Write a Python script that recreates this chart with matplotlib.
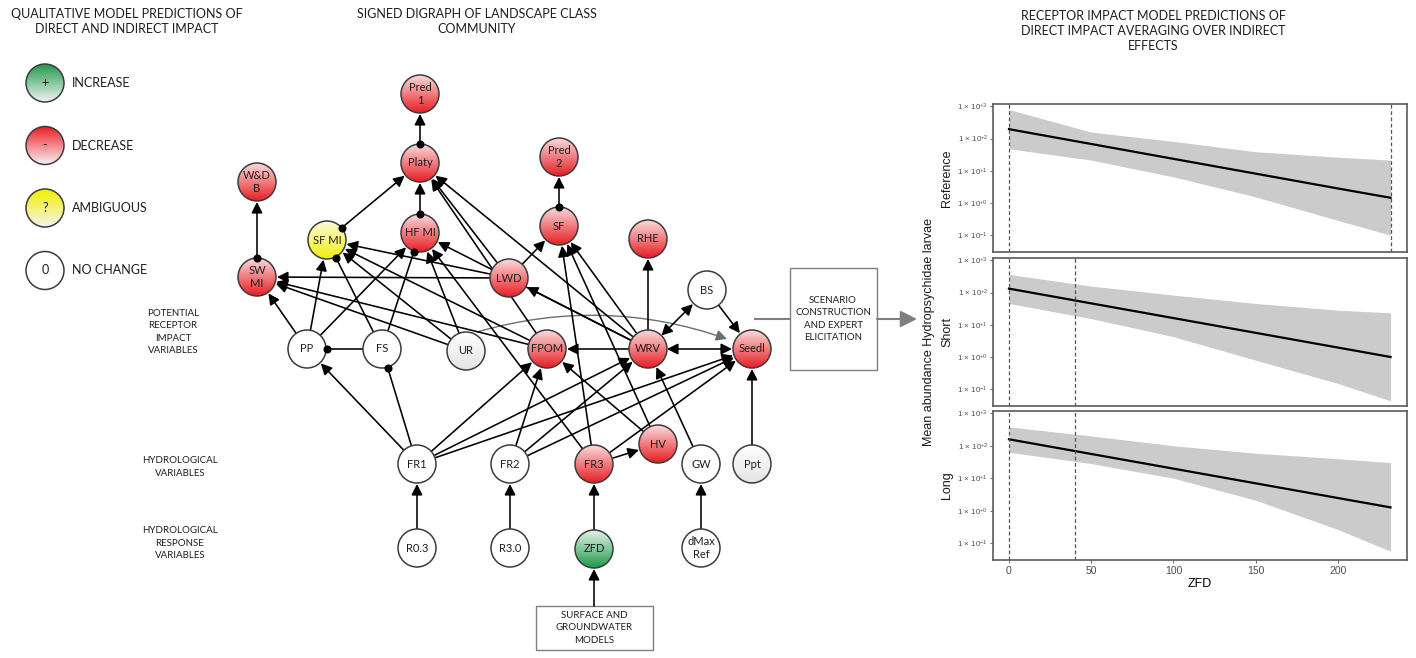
import numpy as np
import matplotlib.pyplot as plt
import matplotlib.ticker as ticker
from matplotlib.patches import Circle, FancyArrowPatch, Rectangle
from matplotlib.colors import to_rgb

# ---- right-hand panels: receptor impact model predictions ----
zfd_grid = [0, 50, 100, 150, 200, 232]

ref_fit = [195, 67.6, 23.4, 8.13, 2.82, 1.45]
ref_hi = [794, 158, 81.3, 38.9, 26.3, 21.4]
ref_lo = [47.9, 21.4, 6.46, 1.55, 0.288, 0.100]
ref_cuts = [0, 232]

short_fit = [132, 46.0, 16.1, 5.61, 1.96, 1.00]
short_hi = [363, 158, 83.2, 45.7, 28.2, 23.4]
short_lo = [45.7, 15.5, 4.27, 0.794, 0.151, 0.0437]
short_cuts = [0, 40]

long_fit = [158, 55.8, 19.7, 6.95, 2.45, 1.26]
long_hi = [380, 200, 100, 58.9, 39.8, 30.2]
long_lo = [63.1, 28.2, 10.0, 2.09, 0.263, 0.0562]
long_cuts = [0, 40]

panel_names = ['Reference', 'Short', 'Long']
y_ticks = [1e3, 1e2, 1e1, 1e0, 1e-1]
y_tick_labels = ['1 × 10$^{+3}$', '1 × 10$^{+2}$', '1 × 10$^{+1}$', '1 × 10$^{+0}$', '1 × 10$^{-1}$']
x_ticks = [0, 50, 100, 150, 200]

# ---- signed digraph ----
nodes = {
    'Pred 1': (420, 94, 'red'), 'Platy': (420, 163, 'red'),
    'Pred 2': (559, 157, 'red'), 'SF': (559, 226, 'red'),
    'W&D B': (257, 182, 'red'), 'SF MI': (327, 240, 'yellow'),
    'HF MI': (420, 233, 'red'), 'RHE': (648, 239, 'red'),
    'SW MI': (257, 277, 'red'), 'LWD': (509, 278, 'red'),
    'BS': (707, 290, 'white'), 'PP': (307, 349, 'white'),
    'FS': (382, 349, 'white'), 'UR': (466, 351, 'grey'),
    'FPOM': (547, 349, 'red'), 'WRV': (648, 349, 'red'),
    'Seedl': (752, 349, 'red'), 'FR1': (417, 464, 'white'),
    'FR2': (510, 464, 'white'), 'FR3': (594, 464, 'red'),
    'HV': (658, 444, 'red'), 'GW': (701, 464, 'white'),
    'Ppt': (752, 464, 'grey'), 'R0.3': (417, 548, 'white'),
    'R3.0': (510, 548, 'white'), 'ZFD': (594, 549, 'green'),
    'dMax Ref': (701, 548, 'white'),
}
node_text = {'Pred 1': 'Pred\n1', 'Pred 2': 'Pred\n2', 'W&D B': 'W&D\nB',
             'SW MI': 'SW\nMI', 'dMax Ref': 'dMax\nRef'}

# arrow = positive effect, dot = negative effect, pred = predator-prey, both = mutual
edges = [
    ('Platy', 'Pred 1', 'pred'), ('SF', 'Pred 2', 'pred'), ('SW MI', 'W&D B', 'pred'),
    ('HF MI', 'Platy', 'pred'), ('SF MI', 'Platy', 'pred'),
    ('LWD', 'Platy', 'arrow'), ('FPOM', 'Platy', 'arrow'), ('WRV', 'Platy', 'arrow'),
    ('LWD', 'SF', 'arrow'), ('FR3', 'SF', 'arrow'), ('HV', 'SF', 'arrow'), ('WRV', 'SF', 'arrow'),
    ('PP', 'HF MI', 'arrow'), ('FS', 'HF MI', 'dot'), ('UR', 'HF MI', 'arrow'),
    ('FR3', 'HF MI', 'arrow'), ('WRV', 'HF MI', 'arrow'),
    ('PP', 'SF MI', 'arrow'), ('FS', 'SF MI', 'dot'), ('LWD', 'SF MI', 'arrow'),
    ('UR', 'SF MI', 'arrow'), ('FPOM', 'SF MI', 'arrow'),
    ('LWD', 'SW MI', 'arrow'), ('PP', 'SW MI', 'arrow'), ('UR', 'SW MI', 'arrow'),
    ('FPOM', 'SW MI', 'arrow'),
    ('WRV', 'LWD', 'arrow'), ('WRV', 'FPOM', 'arrow'), ('WRV', 'Seedl', 'both'),
    ('WRV', 'BS', 'both'), ('WRV', 'RHE', 'arrow'), ('BS', 'Seedl', 'arrow'),
    ('FR1', 'PP', 'arrow'), ('FR1', 'FS', 'dot'), ('FS', 'PP', 'dot'),
    ('FR1', 'FPOM', 'arrow'), ('FR1', 'WRV', 'arrow'), ('FR1', 'Seedl', 'arrow'),
    ('FR2', 'FPOM', 'arrow'), ('FR2', 'WRV', 'arrow'), ('FR2', 'Seedl', 'arrow'),
    ('FR3', 'HV', 'arrow'), ('FR3', 'Seedl', 'arrow'), ('HV', 'FPOM', 'arrow'),
    ('GW', 'WRV', 'arrow'), ('Ppt', 'Seedl', 'arrow'),
    ('R0.3', 'FR1', 'arrow'), ('R3.0', 'FR2', 'arrow'), ('ZFD', 'FR3', 'arrow'),
    ('dMax Ref', 'GW', 'arrow'),
]

legend_items = [('+', 'INCREASE'), ('-', 'DECREASE'), ('?', 'AMBIGUOUS'), ('0', 'NO CHANGE')]

# light -> saturated (top -> bottom) for digraph nodes
NODE_FILL = {
    'red': ('#fbdada', '#e61e24'),
    'yellow': ('#fdfbd8', '#f3ef10'),
    'green': ('#e4f1e7', '#1f9a4a'),
    'white': ('#ffffff', '#ffffff'),
    'grey': ('#ffffff', '#e4e4e4'),
}
# legend circles are the other way round
LEGEND_FILL = [('#239a4c', '#f2f2f2'), ('#ee1c25', '#f6eeee'),
               ('#f2f000', '#f4f4ee'), ('#ffffff', '#ffffff')]

W, H = 1416, 658
R = 19
DIAG_FONT = 'Lato'
PLOT_FONT = 'Liberation Sans'
TXT = '#1e1e1e'
GREY = '#7f7f7f'

plt.rcParams['mathtext.fontset'] = 'custom'
plt.rcParams['mathtext.rm'] = PLOT_FONT
plt.rcParams['mathtext.it'] = PLOT_FONT + ':italic'

fig = plt.figure(figsize=(W / 100, H / 100), dpi=100)
ax = fig.add_axes([0, 0, 1, 1])
ax.axis('off')


def grad_circle(x, y, top, bottom, z=3):
    c1, c2 = np.array(to_rgb(top)), np.array(to_rgb(bottom))
    t = np.linspace(0, 1, 64)[:, None, None]
    img = c1 + (c2 - c1) * t
    circ = Circle((x, y), R, facecolor='none', edgecolor='#3c3c3c', lw=1.1, zorder=z + 1)
    ax.add_patch(circ)
    im = ax.imshow(img, extent=(x - R, x + R, y + R, y - R), origin='upper',
                   aspect='auto', interpolation='bilinear', zorder=z)
    im.set_clip_path(circ)


def ends(a, b):
    x1, y1 = nodes[a][:2]
    x2, y2 = nodes[b][:2]
    d = np.hypot(x2 - x1, y2 - y1)
    ux, uy = (x2 - x1) / d, (y2 - y1) / d
    return (x1 + ux * R, y1 + uy * R), (x2 - ux * (R + 1), y2 - uy * (R + 1))


HEAD = 'head_length=0.65,head_width=0.33'
for a, b, kind in edges:
    p1, p2 = ends(a, b)
    if kind == 'dot':
        style = '-'
    elif kind == 'both':
        style = '<|-|>,' + HEAD
    else:
        style = '-|>,' + HEAD
    ax.add_patch(FancyArrowPatch(p1, p2, arrowstyle=style, mutation_scale=10,
                                 lw=1.15, color='black', shrinkA=0, shrinkB=0, zorder=2))
    if kind == 'dot':
        ax.plot(*p2, 'o', color='black', ms=4.8, zorder=6)
    if kind == 'pred':
        ax.plot(*p1, 'o', color='black', ms=4.8, zorder=6)

# curved grey link UR -> Seedl
ax.add_patch(FancyArrowPatch((477, 332), (727, 339), connectionstyle='arc3,rad=-0.16',
                             arrowstyle='-|>,' + HEAD, mutation_scale=10, lw=1.0,
                             color='#6e6e6e', shrinkA=0, shrinkB=0, zorder=1))

for name, (x, y, kind) in nodes.items():
    top, bottom = NODE_FILL[kind]
    grad_circle(x, y, top, bottom)
    ax.text(x, y, node_text.get(name, name), ha='center', va='center', fontsize=8,
            family=DIAG_FONT, color=TXT, linespacing=1.2, zorder=7)

# legend
for i, ((sym, lab), (top, bottom)) in enumerate(zip(legend_items, LEGEND_FILL)):
    y = 83 + i * 62.5
    grad_circle(45, y, top, bottom)
    ax.text(45, y, sym, ha='center', va='center', fontsize=9, family=DIAG_FONT, color=TXT, zorder=7)
    ax.text(72, y, lab, ha='left', va='center', fontsize=9, family=DIAG_FONT, color=TXT)

# titles and side labels
ax.text(127, 8, 'QUALITATIVE MODEL PREDICTIONS OF\nDIRECT AND INDIRECT IMPACT', ha='center',
        va='top', fontsize=9, family=DIAG_FONT, color=TXT, linespacing=1.3)
ax.text(477, 8, 'SIGNED DIGRAPH OF LANDSCAPE CLASS\nCOMMUNITY', ha='center',
        va='top', fontsize=9, family=DIAG_FONT, color=TXT, linespacing=1.3)
ax.text(1153, 10, 'RECEPTOR IMPACT MODEL PREDICTIONS OF\nDIRECT IMPACT AVERAGING OVER INDIRECT\nEFFECTS',
        ha='center', va='top', fontsize=9, family=DIAG_FONT, color=TXT, linespacing=1.3)
ax.text(173, 332, 'POTENTIAL\nRECEPTOR\nIMPACT\nVARIABLES', ha='center', va='center',
        fontsize=7, family=DIAG_FONT, color=TXT, linespacing=1.45)
ax.text(180, 467, 'HYDROLOGICAL\nVARIABLES', ha='center', va='center',
        fontsize=7, family=DIAG_FONT, color=TXT, linespacing=1.45)
ax.text(180, 543, 'HYDROLOGICAL\nRESPONSE\nVARIABLES', ha='center', va='center',
        fontsize=7, family=DIAG_FONT, color=TXT, linespacing=1.45)

# scenario box and grey arrows
ax.plot([755, 790], [319, 319], color=GREY, lw=1.5, zorder=1)
ax.add_patch(Rectangle((790, 268), 87, 102, facecolor='white', edgecolor=GREY, lw=1.0))
ax.text(833, 319, 'SCENARIO\nCONSTRUCTION\nAND EXPERT\nELICITATION', ha='center', va='center',
        fontsize=7, family=DIAG_FONT, color=TXT, linespacing=1.45)
ax.add_patch(FancyArrowPatch((877, 319), (917, 319), arrowstyle='-|>,head_length=1.0,head_width=0.5',
                             mutation_scale=10, lw=1.5, color=GREY, shrinkA=0, shrinkB=0))

# surface / groundwater box
ax.add_patch(Rectangle((536, 606), 117, 44, facecolor='white', edgecolor=GREY, lw=1.0))
ax.text(594, 628, 'SURFACE AND\nGROUNDWATER\nMODELS', ha='center', va='center',
        fontsize=7, family=DIAG_FONT, color=TXT, linespacing=1.45)
ax.add_patch(FancyArrowPatch((594, 606), (594, 549 + R + 1), arrowstyle='-|>,' + HEAD,
                             mutation_scale=10, lw=1.15, color='black', shrinkA=0, shrinkB=0))

ax.set_xlim(0, W)
ax.set_ylim(H, 0)

# ---- panels ----
panel_rows = [(104, 252), (258, 406), (411, 560)]
series = [(ref_fit, ref_lo, ref_hi, ref_cuts),
          (short_fit, short_lo, short_hi, short_cuts),
          (long_fit, long_lo, long_hi, long_cuts)]

for i, (name, (top, bot), (fit, lo, hi, cuts)) in enumerate(zip(panel_names, panel_rows, series)):
    pa = fig.add_axes([993 / W, 1 - bot / H, 414 / W, (bot - top) / H])
    pa.fill_between(zfd_grid, lo, hi, color='#cbcbcb', lw=0)
    pa.plot(zfd_grid, fit, color='black', lw=1.6)
    for c in cuts:
        pa.axvline(c, color='#555555', lw=0.9, ls=(0, (3, 2)))
    pa.set_yscale('log')
    pa.set_ylim(10 ** -1.52, 10 ** 3.07)
    pa.set_xlim(-9.7, 242)
    pa.set_yticks(y_ticks)
    pa.set_yticklabels(y_tick_labels)
    pa.yaxis.set_minor_locator(ticker.NullLocator())
    pa.set_xticks(x_ticks)
    pa.tick_params(axis='both', length=2, width=0.6, color='#4d4d4d', labelcolor='#4d4d4d',
                   pad=2)
    pa.tick_params(axis='y', labelsize=5.8, pad=1.5)
    pa.tick_params(axis='x', labelsize=7.5)
    for lab in pa.get_yticklabels() + pa.get_xticklabels():
        lab.set_family(PLOT_FONT)
    if i < 2:
        pa.tick_params(axis='x', bottom=False, labelbottom=False)
    else:
        pa.set_xlabel('ZFD', fontsize=9, family=PLOT_FONT, labelpad=2)
    for sp in pa.spines.values():
        sp.set_color('#5a5a5a')
        sp.set_linewidth(1.2)
    fig.text(947 / W, 1 - (top + bot) / 2 / H, name, rotation=90, ha='center', va='center',
             fontsize=9, family=PLOT_FONT, color='#1a1a1a')

fig.text(929 / W, 1 - 332 / H, 'Mean abundance Hydropsychidae larvae', rotation=90,
         ha='center', va='center', fontsize=9, family=PLOT_FONT, color='#1a1a1a')

fig.savefig('out.png', dpi=100, facecolor='white')
